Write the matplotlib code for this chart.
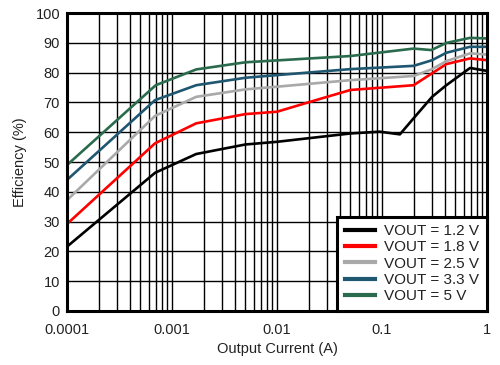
import matplotlib
matplotlib.use("Agg")
import matplotlib.pyplot as plt
from matplotlib.ticker import LogLocator, FixedLocator, NullFormatter, FixedFormatter

plt.rcParams['font.family'] = ['Liberation Sans', 'DejaVu Sans']

# Data
i_12 = [0.0001, 0.00069, 0.0017, 0.005, 0.01, 0.05, 0.095, 0.148, 0.2, 0.3, 0.41, 0.69, 1.0]
eff_12 = [21.6, 46.4, 52.7, 55.9, 56.8, 59.6, 60.2, 59.3, 64.7, 71.9, 75.8, 81.6, 80.6]

i_18 = [0.0001, 0.00069, 0.0017, 0.005, 0.01, 0.0206, 0.05, 0.2, 0.3, 0.41, 0.69, 1.0]
eff_18 = [29.2, 56.3, 63.0, 66.1, 66.9, 70.2, 74.2, 75.8, 79.8, 82.9, 84.8, 84.2]

i_25 = [0.0001, 0.00069, 0.0017, 0.005, 0.01, 0.05, 0.2, 0.3, 0.41, 0.69, 1.0]
eff_25 = [37.2, 65.5, 71.9, 74.4, 75.3, 77.5, 78.9, 81.2, 83.9, 86.5, 86.1]

i_33 = [0.0001, 0.00069, 0.0017, 0.005, 0.01, 0.05, 0.2, 0.3, 0.41, 0.69, 1.0]
eff_33 = [44.0, 70.8, 75.8, 78.3, 79.2, 81.2, 82.3, 84.2, 86.7, 88.7, 88.7]

i_50 = [0.0001, 0.00070, 0.0017, 0.005, 0.05, 0.2, 0.295, 0.41, 0.69, 1.0]
eff_50 = [49.0, 75.8, 81.1, 83.5, 85.6, 88.1, 87.6, 90.0, 91.7, 91.5]

labels = ["VOUT = 1.2 V", "VOUT = 1.8 V", "VOUT = 2.5 V", "VOUT = 3.3 V", "VOUT = 5 V"]
colors = ["#000000", "#ff0000", "#a9a9a9", "#1f5670", "#2a6b4e"]

xticks = [0.0001, 0.001, 0.01, 0.1, 1]
xticklabels = ["0.0001", "0.001", "0.01", "0.1", "1"]
yticks = list(range(0, 101, 10))

fig = plt.figure(figsize=(5.0, 3.65), dpi=100)
ax = fig.add_axes([0.134, 0.148, 0.840, 0.816])

series = [(i_12, eff_12), (i_18, eff_18), (i_25, eff_25), (i_33, eff_33), (i_50, eff_50)]
for (x, y), c, lab in zip(series, colors, labels):
    ax.plot(x, y, color=c, lw=1.9, label=lab, zorder=3)

ax.set_xscale('log')
ax.set_xlim(0.0001, 1)
ax.set_ylim(0, 100)
ax.xaxis.set_major_locator(FixedLocator(xticks))
ax.xaxis.set_major_formatter(FixedFormatter(xticklabels))
ax.xaxis.set_minor_locator(LogLocator(base=10, subs=range(2, 10), numticks=20))
ax.xaxis.set_minor_formatter(NullFormatter())
ax.set_yticks(yticks)

ax.grid(True, which='both', axis='x', color='black', lw=1.0)
ax.grid(True, which='major', axis='y', color='black', lw=1.0)
ax.tick_params(which='both', length=0, labelsize=10.5, colors='#222222')
ax.tick_params(axis='x', pad=9)
ax.tick_params(axis='y', pad=5)

for s in ax.spines.values():
    s.set_linewidth(2.2)
    s.set_color('black')
    s.set_zorder(5)

ax.set_xlabel("Output Current (A)", fontsize=10.5, color='#222222', labelpad=3)
ax.set_ylabel("Efficiency (%)", fontsize=10.5, color='#222222', labelpad=6)

leg = ax.legend(loc='lower right', fontsize=11, frameon=True, fancybox=False,
                edgecolor='black', framealpha=1, borderaxespad=0,
                handlelength=2.0, handletextpad=0.6, labelspacing=0.15,
                borderpad=0.5)
leg.get_frame().set_linewidth(2.2)
for h in leg.legend_handles:
    h.set_linewidth(3.0)
for t in leg.get_texts():
    t.set_color('#222222')
leg.set_zorder(6)

fig.savefig("out.png", dpi=100)
